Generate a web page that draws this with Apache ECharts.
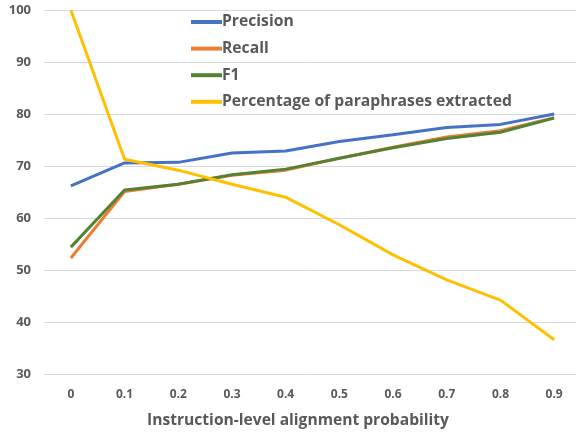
<!DOCTYPE html>
<html><head><meta charset="utf-8">
<script src="https://cdn.jsdelivr.net/npm/echarts@6/dist/echarts.min.js"></script>
<style>html,body{margin:0;padding:0;background:#fff}#c{width:576px;height:432px}</style>
</head><body><div id="c"></div>
<script>
const categories = ['0','0.1','0.2','0.3','0.4','0.5','0.6','0.7','0.8','0.9'];
const precision = [66.2, 70.6, 70.7, 72.5, 72.9, 74.7, 76.0, 77.4, 78.0, 80.0];
const recall = [52.3, 65.1, 66.5, 68.2, 69.2, 71.5, 73.6, 75.6, 76.8, 79.3];
const f1 = [54.4, 65.4, 66.5, 68.3, 69.4, 71.5, 73.5, 75.3, 76.5, 79.2];
const paraphrases = [100, 71.3, 69.2, 66.5, 64.0, 58.7, 52.9, 48.1, 44.2, 36.6];
const seriesNames = ['Precision','Recall','F1','Percentage of paraphrases extracted'];
const colors = ['#4472C4','#ED7D31','#548235','#FFC000'];
const dataSets = [precision, recall, f1, paraphrases];

const chart = echarts.init(document.getElementById('c'));
chart.setOption({
  animation: false,
  color: colors,
  grid: {left: 44, width: 537, top: 10, bottom: 58, outerBoundsMode: 'none', containLabel: false},
  legend: {
    orient: 'vertical', left: 186, top: 9, itemGap: 10.6,
    itemWidth: 31, itemHeight: 4, icon: 'rect',
    textStyle: {color: '#595959', fontWeight: 'bold', fontSize: 15.7, fontFamily: 'Open Sans', padding: [0,0,0,-5]},
    data: seriesNames
  },
  xAxis: {
    type: 'category', data: categories, boundaryGap: true,
    name: 'Instruction-level alignment probability', nameLocation: 'middle', nameGap: 39,
    nameTextStyle: {color: '#595959', fontWeight: 'bold', fontSize: 15.6, fontFamily: 'Open Sans', padding: [0,0,0,-29]},
    axisLine: {show: false}, axisTick: {show: false},
    axisLabel: {color: '#595959', fontWeight: 'bold', fontSize: 12, fontFamily: 'Open Sans', margin: 15}
  },
  yAxis: {
    type: 'value', min: 30, max: 100, interval: 10,
    axisLine: {show: false}, axisTick: {show: false},
    axisLabel: {color: '#595959', fontWeight: 'bold', fontSize: 13, fontFamily: 'Open Sans', margin: 13},
    splitLine: {lineStyle: {color: '#d9d9d9', width: 1}}
  },
  series: dataSets.map((d, i) => ({
    name: seriesNames[i], type: 'line', data: d, symbol: 'none',
    lineStyle: {width: 3, color: colors[i]}, itemStyle: {color: colors[i]}
  }))
});
</script></body></html>
